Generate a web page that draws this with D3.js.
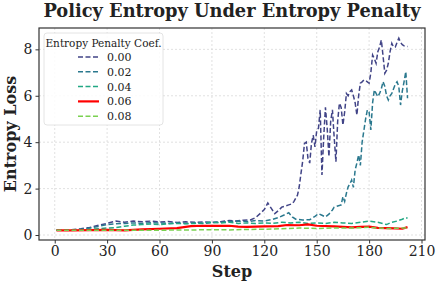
<!DOCTYPE html>
<meta charset="utf-8">
<style>
    body { margin: 0; background: #fff; }
    text { font-family: "DejaVu Serif", serif; fill: #222; }
    .grid line { stroke: #d9d9d9; stroke-dasharray: 2,2; stroke-width: 0.8px; }
    .axis path { display: none; }
    .axis line { stroke: #333; }
</style>
<svg width="440" height="284"></svg>
<script src="https://d3js.org/d3.v7.min.js"></script>
<script>
    // values (step, loss)
    var coefs = ["0.00", "0.02", "0.04", "0.06", "0.08"];
    var colours = ["#414487", "#2a788e", "#22a884", "#ff0000", "#7ad151"];

    var steps00 = [1,8,15,20,25,30,35,40,45,50,55,60,65,70,75,80,85,90,95,100,104,108,112,115,118,120,122,124,126,128,130,132,134,136,137,139,140,141,142,143,144,145,146,147,148,149,150,151,152,153,154,155,156,157,158,159,160,161,162,163,164,165,166,167,168,169,170,171,172,173,174,175,176,177,178,179,180,181,182,183,184,185,186,187,188,189,190,191,192,193,194,195,196,197,198,199,200,202];
    var loss00 = [0.2,0.22,0.27,0.32,0.42,0.5,0.6,0.55,0.6,0.57,0.6,0.56,0.58,0.54,0.57,0.55,0.56,0.55,0.57,0.63,0.6,0.64,0.65,0.75,0.95,1.1,1.38,1.15,0.92,1.05,1.2,1.25,1.3,1.35,1.45,1.72,2.08,2.66,3.2,3.95,4.0,3.3,3.1,3.95,4.3,3.8,4.5,4.6,5.39,2.59,4.2,5.5,4.6,3.38,4.9,5.39,4.2,3.16,4.9,5.68,5.5,4.74,5.3,6.1,6.0,6.18,6.25,6.0,5.7,5.17,6.0,6.54,6.6,6.68,6.65,6.6,6.54,7.0,7.76,7.6,7.4,7.9,8.1,8.4,7.7,6.97,7.1,7.4,7.9,8.26,8.1,8.1,8.3,8.48,8.3,8.2,8.15,8.12];

    var steps02 = [1,10,18,25,30,35,40,45,50,55,60,65,70,75,80,85,90,95,100,105,110,115,120,124,128,131,134,136,138,142,146,149,151,153,155,157,159,160,162,164,165,166,167,168,169,170,171,172,173,174,175,176,177,178,179,180,181,182,183,184,185,186,187,188,189,190,191,192,193,194,195,196,197,198,199,200,201,202];
    var loss02 = [0.2,0.21,0.27,0.37,0.45,0.48,0.5,0.52,0.5,0.53,0.52,0.5,0.52,0.5,0.52,0.5,0.53,0.55,0.58,0.6,0.58,0.62,0.6,0.66,0.75,0.85,0.96,0.78,0.68,0.65,0.66,0.8,0.92,0.85,0.78,0.9,1.08,1.2,1.25,1.3,1.65,1.45,1.8,2.08,2.2,2.37,2.05,2.8,3.1,3.45,3.0,4.0,4.5,5.0,5.39,5.3,4.53,5.7,6.25,6.1,5.96,6.1,6.3,6.61,6.4,6.0,5.82,6.0,6.1,6.3,6.5,6.6,6.4,5.6,6.2,6.6,7.04,5.89];

    var steps04 = [1,10,20,30,35,40,45,50,55,60,65,70,75,80,85,90,95,100,105,110,115,120,125,130,135,140,145,150,155,160,165,170,175,180,185,190,193,196,199,201,202];
    var loss04 = [0.2,0.2,0.24,0.3,0.32,0.38,0.43,0.45,0.47,0.45,0.48,0.5,0.48,0.5,0.52,0.55,0.52,0.55,0.5,0.52,0.5,0.52,0.5,0.55,0.52,0.55,0.5,0.52,0.5,0.55,0.52,0.5,0.55,0.6,0.55,0.45,0.55,0.6,0.68,0.75,0.72];

    var steps06 = [1,10,20,30,40,50,60,70,75,78,85,95,100,105,110,120,128,133,140,145,150,160,170,175,180,185,190,195,199,202];
    var loss06 = [0.2,0.2,0.21,0.22,0.2,0.24,0.27,0.3,0.35,0.38,0.4,0.39,0.4,0.36,0.35,0.37,0.38,0.43,0.42,0.46,0.4,0.37,0.33,0.35,0.36,0.31,0.3,0.29,0.27,0.34];

    var steps08 = [1,20,40,60,70,80,90,100,110,120,130,140,150,160,170,180,185,190,200,202];
    var loss08 = [0.2,0.2,0.2,0.2,0.22,0.22,0.23,0.22,0.24,0.25,0.27,0.3,0.28,0.3,0.3,0.33,0.3,0.28,0.3,0.3];

    var xTicks = [0, 30, 60, 90, 120, 150, 180, 210];
    var yTicks = [0, 2, 4, 6, 8];

    var allSteps = [steps00, steps02, steps04, steps06, steps08];
    var allLoss = [loss00, loss02, loss04, loss06, loss08];

    var svg = d3.select("svg"),
        plotLeft = 39, plotRight = 425, plotTop = 28, plotBottom = 240;

    var x = d3.scaleLinear().domain([-9, 212]).range([plotLeft, plotRight]);
    var y = d3.scaleLinear().domain([-0.215, 8.92]).range([plotBottom, plotTop]);

    // grid
    var grid = svg.append("g").attr("class", "grid");
    grid.selectAll(".gx").data(xTicks).enter().append("line")
        .attr("x1", function (d) { return x(d); }).attr("x2", function (d) { return x(d); })
        .attr("y1", plotTop).attr("y2", plotBottom);
    grid.selectAll(".gy").data(yTicks).enter().append("line")
        .attr("x1", plotLeft).attr("x2", plotRight)
        .attr("y1", function (d) { return y(d); }).attr("y2", function (d) { return y(d); });

    // lines
    var line = d3.line()
        .x(function (d) { return x(d[0]); })
        .y(function (d) { return y(d[1]); });

    coefs.forEach(function (c, i) {
        var pts = allSteps[i].map(function (s, j) { return [s, allLoss[i][j]]; });
        svg.append("path")
            .datum(pts)
            .attr("fill", "none")
            .attr("stroke", colours[i])
            .attr("stroke-width", c === "0.06" ? 2.2 : 1.5)
            .attr("stroke-dasharray", c === "0.06" ? null : "5,2.5")
            .attr("d", line);
    });

    // frame
    svg.append("rect")
        .attr("x", plotLeft).attr("y", plotTop)
        .attr("width", plotRight - plotLeft).attr("height", plotBottom - plotTop)
        .attr("fill", "none").attr("stroke", "#333").attr("stroke-width", 1.2);

    // axes
    svg.append("g").attr("class", "axis")
        .attr("transform", "translate(0," + plotBottom + ")")
        .call(d3.axisBottom(x).tickValues(xTicks).tickSize(3.5).tickPadding(3));
    svg.append("g").attr("class", "axis")
        .attr("transform", "translate(" + plotLeft + ",0)")
        .call(d3.axisLeft(y).tickValues(yTicks).tickSize(3.5).tickPadding(3));
    svg.selectAll(".axis text")
        .style("font-family", "DejaVu Serif, serif")
        .style("font-size", "14px")
        .attr("fill", "#222");

    // title and labels
    svg.append("text")
        .attr("x", (plotLeft + plotRight) / 2).attr("y", 17)
        .attr("text-anchor", "middle")
        .style("font-size", "17.8px").style("font-weight", "bold")
        .text("Policy Entropy Under Entropy Penalty");

    svg.append("text")
        .attr("x", (plotLeft + plotRight) / 2).attr("y", 277)
        .attr("text-anchor", "middle")
        .style("font-size", "16px").style("font-weight", "bold")
        .text("Step");

    svg.append("text")
        .attr("transform", "translate(16," + ((plotTop + plotBottom) / 2) + ") rotate(-90)")
        .attr("text-anchor", "middle")
        .style("font-size", "16px").style("font-weight", "bold")
        .text("Entropy Loss");

    // legend
    var lg = svg.append("g");
    lg.append("rect")
        .attr("x", 44).attr("y", 33).attr("width", 119).attr("height", 92)
        .attr("rx", 3)
        .attr("fill", "#fff").attr("fill-opacity", 0.85)
        .attr("stroke", "#dddddd").attr("stroke-width", 0.8);
    lg.append("text")
        .attr("x", 103.5).attr("y", 46.5)
        .attr("text-anchor", "middle")
        .style("font-size", "10.5px")
        .text("Entropy Penalty Coef.");
    coefs.forEach(function (c, i) {
        var ly = 57 + i * 14.8;
        lg.append("line")
            .attr("x1", 78).attr("x2", 99)
            .attr("y1", ly).attr("y2", ly)
            .attr("stroke", colours[i])
            .attr("stroke-width", c === "0.06" ? 2.2 : 1.5)
            .attr("stroke-dasharray", c === "0.06" ? null : "5,2.5");
        lg.append("text")
            .attr("x", 107).attr("y", ly + 4)
            .style("font-size", "11px")
            .text(c);
    });
</script>
